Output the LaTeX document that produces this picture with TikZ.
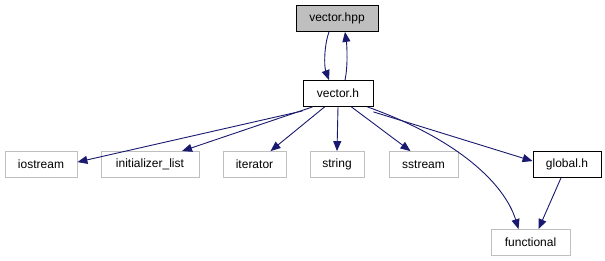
\documentclass[tikz,border=0pt]{standalone}
\usepackage{fontspec}
\setmainfont{Liberation Sans}
\usetikzlibrary{arrows.meta}
\definecolor{edgeblue}{HTML}{191970}
\definecolor{sysgray}{HTML}{BFBFBF}
\definecolor{curfill}{HTML}{BFBFBF}
\begin{document}
\begin{tikzpicture}[x=1pt,y=-1pt,
  box/.style={draw=black,fill=white,line width=0.8pt,inner sep=0pt,minimum height=26pt,font=\fontsize{12}{14}\selectfont},
  sysbox/.style={box,draw=sysgray},
  edge/.style={draw=edgeblue,line width=0.9pt,-{Triangle[length=10pt,width=8pt]}}]
  \useasboundingbox[fill=white] (0,0) rectangle (605,261);
  % header and its direct include
  \node[box,fill=curfill,minimum width=82pt] (vhpp) at (337,18.5) {vector.hpp};
  \node[box,minimum width=70pt] (vh) at (338,93.5) {vector.h};
  % included headers
  \node[sysbox,minimum width=72pt] (io) at (41,164.5) {iostream};
  \node[sysbox,minimum width=98pt] (il) at (150,164.5) {initializer\_list};
  \node[sysbox,minimum width=63pt] (it) at (254.5,164.5) {iterator};
  \node[sysbox,minimum width=54pt] (st) at (337,164.5) {string};
  \node[sysbox,minimum width=69pt] (ss) at (423.5,164.5) {sstream};
  \node[box,minimum width=68pt] (gl) at (567,164.5) {global.h};
  \node[sysbox,minimum width=79pt] (fn) at (530.5,242.5) {functional};
  % edges
  \draw[edge] ([xshift=-8pt]vhpp.south) .. controls +(-5,14) and +(-5,-14) .. ([xshift=-9pt]vh.north);
  \draw[edge] ([xshift=7pt]vh.north) .. controls +(3,-14) and +(2,14) .. ([xshift=8pt]vhpp.south);
  \draw[edge] ([yshift=-4pt]vh.south west) -- ([yshift=-11pt]io.north east);
  \draw[edge] ([xshift=10pt]vh.south west) -- ([xshift=32pt]il.north);
  \draw[edge] ([xshift=22pt]vh.south west) -- ([xshift=16pt]it.north);
  \draw[edge] (vh.south) -- (st.north);
  \draw[edge] ([xshift=-22pt]vh.south east) -- ([xshift=-13pt]ss.north);
  \draw[edge] ([yshift=-5pt]vh.south east) -- ([yshift=-10pt]gl.north west);
  \draw[edge] ([xshift=-6pt]vh.south east) .. controls (460,140) and (505,185) .. ([xshift=-12pt]fn.north);
  \draw[edge] ([xshift=-6pt]gl.south) -- ([xshift=8pt]fn.north);
\end{tikzpicture}
\end{document}
